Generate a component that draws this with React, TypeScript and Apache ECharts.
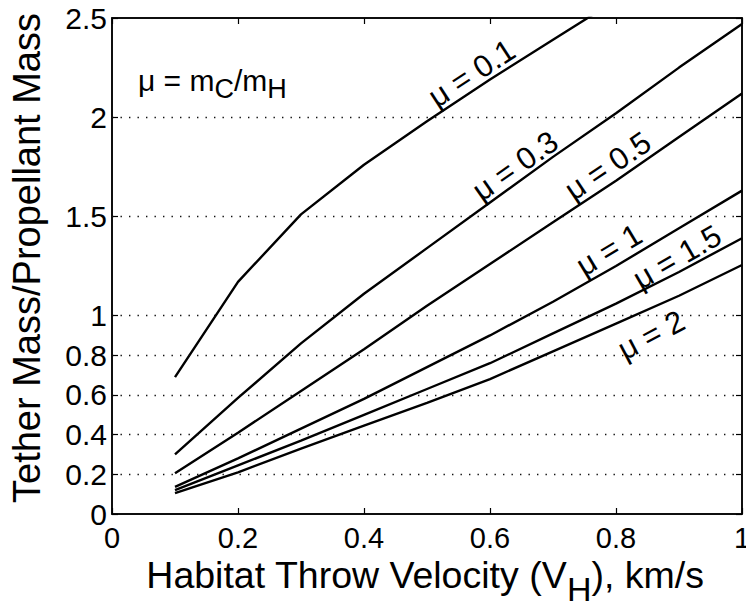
import React, { useEffect, useRef } from 'react';
import * as echarts from 'echarts';

// Habitat throw velocity (km/s) sample points
const xValues = [0.1, 0.2, 0.3, 0.4, 0.5, 0.6, 0.7, 0.8, 0.9, 1.0];
// Tether mass / propellant mass for each mu = mC/mH
const mu01 = [0.69, 1.17, 1.51, 1.76, 1.98, 2.19, 2.39, 2.59];
const mu03 = [0.30, 0.585, 0.86, 1.11, 1.34, 1.57, 1.80, 2.02, 2.25, 2.47];
const mu05 = [0.205, 0.41, 0.62, 0.83, 1.05, 1.26, 1.47, 1.68, 1.90, 2.12];
const mu1 = [0.137, 0.28, 0.43, 0.58, 0.74, 0.90, 1.07, 1.25, 1.44, 1.63];
const mu15 = [0.12, 0.245, 0.37, 0.50, 0.63, 0.76, 0.91, 1.06, 1.22, 1.39];
const mu2 = [0.105, 0.21, 0.33, 0.445, 0.56, 0.68, 0.82, 0.96, 1.10, 1.255];

const xTicks = [0, 0.2, 0.4, 0.6, 0.8, 1];
const yTicks = [0, 0.2, 0.4, 0.6, 0.8, 1, 1.5, 2, 2.5];
const yGrid = [0.2, 0.4, 0.6, 0.8, 1, 1.5, 2];

const curveNames = ['μ = 0.1', 'μ = 0.3', 'μ = 0.5', 'μ = 1', 'μ = 1.5', 'μ = 2'];
const curveValues = [mu01, mu03, mu05, mu1, mu15, mu2];
// label anchor (data coords) and angle in degrees
const labelAnchors = [
  [0.571, 2.221, 33],
  [0.640, 1.754, 35],
  [0.787, 1.754, 34],
  [0.789, 1.331, 31],
  [0.897, 1.295, 30],
  [0.856, 0.902, 28],
];

const FONT = "'Liberation Sans', Arial, Helvetica, sans-serif";

export default function App() {
  const ref = useRef<HTMLDivElement>(null);
  useEffect(() => {
    document.body.style.margin = '0';
    const chart = echarts.init(ref.current!, null, { renderer: 'svg' });
    const lineAxis = { show: true, onZero: false, lineStyle: { color: '#000', width: 1.5 } };
    const tickStyle = { show: true, inside: true, length: 6, lineStyle: { color: '#000', width: 1.2 } };
    chart.setOption({
      animation: false,
      backgroundColor: '#fff',
      grid: {
        left: 112, right: 4, top: 18, bottom: 89,
        show: true, borderColor: '#000', borderWidth: 1.5,
        containLabel: false, outerBoundsMode: 'none',
      },
      xAxis: [
        {
          type: 'value', position: 'bottom', min: 0, max: 1, interval: 0.2,
          axisLine: lineAxis,
          axisTick: { ...tickStyle, customValues: xTicks },
          axisLabel: { color: '#000', fontSize: 29, lineHeight: 30, fontFamily: FONT, margin: 9, customValues: xTicks, formatter: (v: number) => String(v) },
          splitLine: { show: false },
        },
        {
          type: 'value', position: 'top', min: 0, max: 1, interval: 0.2,
          axisLine: lineAxis,
          axisTick: { ...tickStyle, customValues: xTicks },
          axisLabel: { show: false },
          splitLine: { show: false },
        },
      ],
      yAxis: [
        {
          type: 'value', position: 'left', min: 0, max: 2.5, interval: 0.1,
          axisLine: lineAxis,
          axisTick: { ...tickStyle, customValues: yTicks },
          axisLabel: { color: '#000', fontSize: 30, fontFamily: FONT, margin: 5, customValues: yTicks, formatter: (v: number) => String(v) },
          splitLine: { show: false },
        },
        {
          type: 'value', position: 'right', min: 0, max: 2.5, interval: 0.1,
          axisLine: lineAxis,
          axisTick: { ...tickStyle, customValues: yTicks },
          axisLabel: { show: false },
          splitLine: { show: false },
        },
      ],
      series: curveValues.map((vals, k) => ({
        type: 'line',
        name: curveNames[k],
        xAxisIndex: 0,
        yAxisIndex: 0,
        clip: true,
        symbol: 'none',
        smooth: false,
        silent: true,
        lineStyle: { color: '#000', width: 2.4 },
        data: vals.map((v, i) => [xValues[i], v]),
        markLine: k === 0 ? {
          silent: true,
          symbol: ['none', 'none'],
          label: { show: false },
          lineStyle: { color: '#111', width: 1.4, type: [1.4, 7.1] },
          data: yGrid.map((v) => ({ yAxis: v })),
        } : undefined,
      })),
    });

    const labels = curveNames.map((name, k) => {
      const [lx, ly, ang] = labelAnchors[k];
      const p = chart.convertToPixel({ gridIndex: 0 }, [lx, ly]) as number[];
      return {
        type: 'text',
        x: p[0], y: p[1],
        rotation: (ang * Math.PI) / 180,
        style: {
          text: name, fontSize: 31, fontFamily: FONT, fill: '#000',
          align: 'center', verticalAlign: 'middle', textAlign: 'center', textVerticalAlign: 'middle',
        },
      };
    });

    chart.setOption({
      graphic: [
        {
          type: 'text', x: 27, y: 258, rotation: Math.PI / 2,
          style: {
            text: 'Tether Mass/Propellant Mass', fontSize: 38, fontFamily: FONT, fill: '#000',
            align: 'center', verticalAlign: 'middle', textAlign: 'center', textVerticalAlign: 'middle',
          },
        },
        {
          type: 'text', x: 425, y: 575,
          style: {
            text: '{t|Habitat Throw Velocity (V}{s|H}{t|), km/s}',
            align: 'center', verticalAlign: 'middle', textAlign: 'center', textVerticalAlign: 'middle',
            rich: {
              t: { fontSize: 37.5, lineHeight: 38, fontFamily: FONT, fill: '#000', color: '#000', verticalAlign: 'top' },
              s: { fontSize: 34, lineHeight: 34, fontFamily: FONT, fill: '#000', color: '#000', verticalAlign: 'top', padding: [16, 0, 0, 0] },
            },
          },
        },
        {
          type: 'text', x: 138, y: 84,
          style: {
            text: '{a|μ = m}{s|C}{a|/m}{s|H}',
            align: 'left', verticalAlign: 'middle', textAlign: 'left', textVerticalAlign: 'middle',
            rich: {
              a: { fontSize: 30, fontFamily: FONT, fill: '#000', color: '#000', verticalAlign: 'top' },
              s: { fontSize: 27, fontFamily: FONT, fill: '#000', color: '#000', verticalAlign: 'top', padding: [10, 0, 0, 0] },
            },
          },
        },
        ...labels,
      ],
    });
    return () => chart.dispose();
  }, []);
  return <div ref={ref} style={{ width: 746, height: 603 }} />;
}
